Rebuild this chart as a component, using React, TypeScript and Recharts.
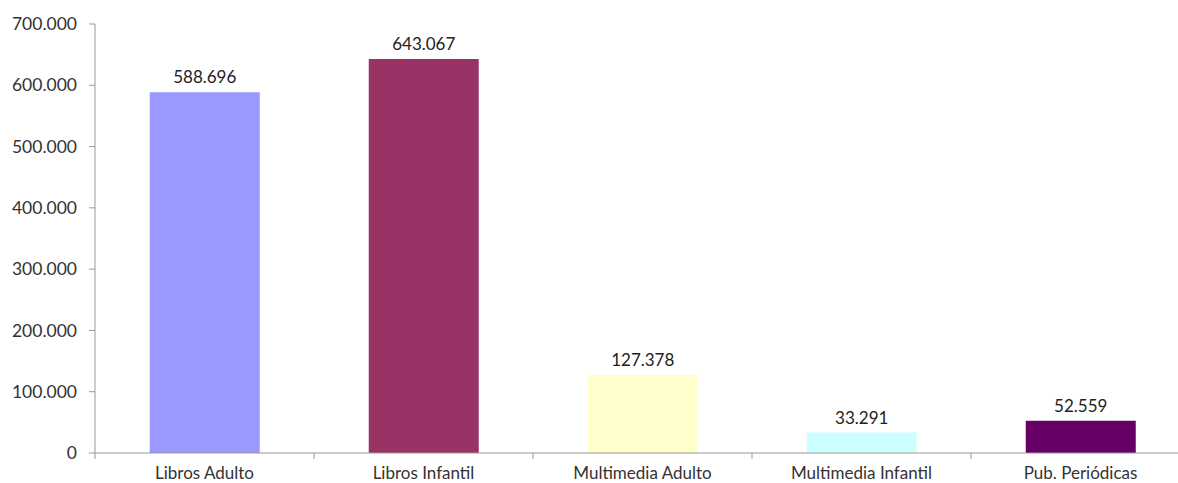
import { BarChart, Bar, XAxis, YAxis, Cell, LabelList } from "recharts";

// Chart data
const categories = [
  "Libros Adulto",
  "Libros Infantil",
  "Multimedia Adulto",
  "Multimedia Infantil",
  "Pub. Periódicas",
];
const values = [588696, 643067, 127378, 33291, 52559];
const colors = ["#9999FF", "#993366", "#FFFFCC", "#CCFFFF", "#660066"];
const yTicks = [0, 100000, 200000, 300000, 400000, 500000, 600000, 700000];

const data = categories.map((name, i) => ({ name, value: values[i] }));

const fmt = (v: number) => String(v).replace(/\B(?=(\d{3})+(?!\d))/g, ".");

const FONT = "Lato, 'Open Sans', sans-serif";

// x tick: label at band centre, tick mark at left band edge
// (y passed in is axis line + tickSize + tickMargin = axis + 8)
function CategoryTick(props: any) {
  const { x, y, payload } = props;
  const off = payload && payload.offset ? payload.offset : 109;
  return (
    <g>
      <line x1={x - off} y1={y - 8} x2={x - off} y2={y - 2} stroke="#999" />
      <text
        x={x}
        y={y + 18}
        textAnchor="middle"
        fontSize={17}
        fill="#333"
        fontFamily={FONT}
      >
        {payload.value}
      </text>
    </g>
  );
}

export default function App() {
  return (
    <div
      style={{
        position: "absolute",
        left: 0,
        top: 0,
        width: 1178,
        height: 483,
        overflow: "hidden",
        background: "#fff",
      }}
    >
      <BarChart
        width={1195}
        height={483}
        data={data}
        margin={{ top: 24, right: 5, bottom: 0, left: 0 }}
        barCategoryGap="25%"
      >
        <XAxis
          dataKey="name"
          height={30}
          stroke="#999"
          tickLine={false}
          interval={0}
          tick={<CategoryTick />}
        />
        <YAxis
          width={95}
          domain={[0, 700000]}
          ticks={yTicks}
          tickFormatter={fmt}
          stroke="#999"
          tickSize={6}
          tickMargin={12}
          tick={{ fontSize: 17.5, fill: "#333", fontFamily: FONT }}
          interval={0}
        />
        <Bar dataKey="value" isAnimationActive={false}>
          {data.map((d, i) => (
            <Cell key={d.name} fill={colors[i]} />
          ))}
          <LabelList
            dataKey="value"
            position="top"
            offset={9}
            formatter={(v: any) => fmt(Number(v))}
            style={{ fontSize: 17, fill: "#222", fontFamily: FONT }}
          />
        </Bar>
      </BarChart>
    </div>
  );
}
